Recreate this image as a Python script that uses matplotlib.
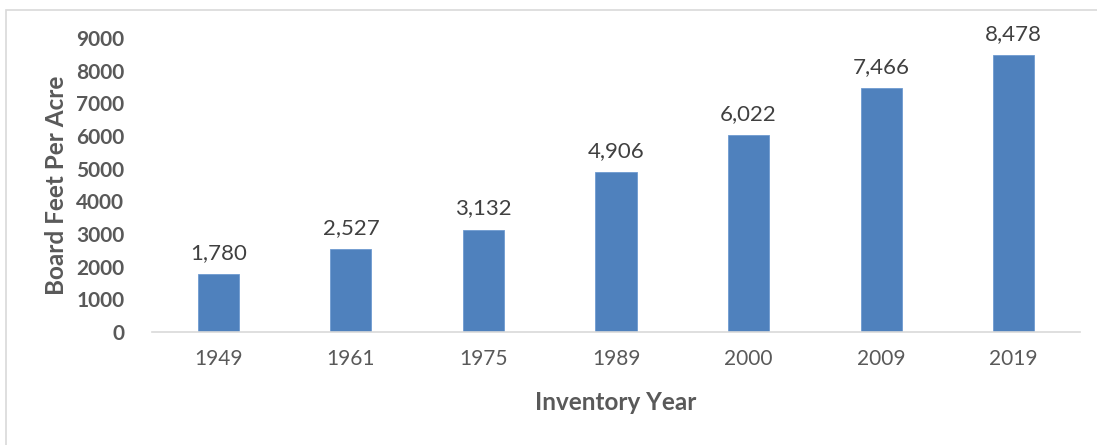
import matplotlib
matplotlib.use("Agg")
import matplotlib.pyplot as plt
from matplotlib.patches import Rectangle

years = ["1949", "1961", "1975", "1989", "2000", "2009", "2019"]
board_feet = [1780, 2527, 3132, 4906, 6022, 7466, 8478]
y_ticks = [0, 1000, 2000, 3000, 4000, 5000, 6000, 7000, 8000, 9000]

plt.rcParams["font.family"] = ["Lato", "DejaVu Sans"]

fig = plt.figure(figsize=(10.97, 4.45), dpi=100)
ax = fig.add_axes([0.1386, 0.254, 0.8459, 0.6606])

x = range(len(years))
bars = ax.bar(x, board_feet, width=0.31, color="#4f81bd", edgecolor="#6f9bd0", linewidth=0.6)
for xi, v in zip(x, board_feet):
    ax.annotate(f"{v:,}", (xi, v), xytext=(0, 8), textcoords="offset points",
                ha="center", va="bottom", fontsize=16, color="#404040")

ax.set_xlim(-0.5, len(years) - 0.5)
ax.set_ylim(0, 9000)
ax.set_xticks(list(x))
ax.set_xticklabels(years, fontsize=15, color="#595959")
ax.set_yticks(y_ticks)
ax.set_yticklabels([str(t) for t in y_ticks], fontsize=15, fontweight="bold", color="#595959")
ax.tick_params(length=0, pad=12)
ax.tick_params(axis="y", pad=20)

for s in ("top", "right", "left"):
    ax.spines[s].set_visible(False)
ax.spines["bottom"].set_color("#d9d9d9")
ax.spines["bottom"].set_linewidth(1.2)

ax.set_xlabel("Inventory Year", fontsize=17.5, fontweight="bold", color="#595959", labelpad=16)
ax.set_ylabel("Board Feet Per Acre", fontsize=17.5, fontweight="bold", color="#595959", labelpad=6)

fig.patches.append(Rectangle((6 / 1097, -0.1), 1.2, (445 - 10) / 445 + 0.1,
                             transform=fig.transFigure, fill=False,
                             edgecolor="#d9d9d9", linewidth=1.2))

fig.savefig("out.png", dpi=100)
